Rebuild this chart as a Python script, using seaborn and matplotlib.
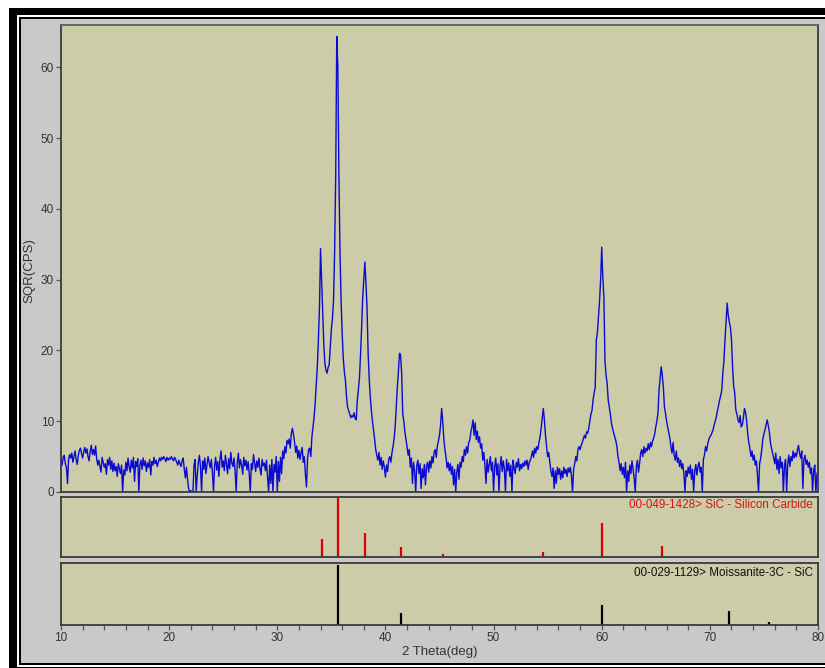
import numpy as np
import pandas as pd
import matplotlib
matplotlib.use("Agg")
import matplotlib.pyplot as plt
from matplotlib.patches import Rectangle
import seaborn as sns

# ---------------- data ----------------
# measured pattern, 2-theta from 10.0 to 80.0 in 0.1 deg steps (one row per degree)
sqr_cps_rows = [
    [4.5, 3.8, 4.9, 5.2, 4.0, 3.5, 1.2, 4.6, 5.3, 4.8],   # 10
    [5.5, 4.2, 5.0, 5.8, 4.6, 3.9, 5.2, 5.9, 6.2, 5.4],   # 11
    [4.8, 5.7, 6.3, 5.5, 6.1, 5.0, 4.4, 5.8, 6.6, 5.3],   # 12
    [6.0, 5.2, 6.5, 4.7, 3.8, 4.5, 3.6, 2.8, 4.9, 4.2],   # 13
    [3.5, 4.0, 2.5, 4.6, 3.8, 4.9, 3.2, 4.4, 2.9, 4.1],   # 14
    [3.0, 3.6, 2.2, 4.0, 3.3, 2.6, 3.8, 0.0, 3.1, 2.4],   # 15
    [4.2, 3.0, 4.8, 3.5, 2.8, 4.5, 3.4, 4.9, 1.5, 4.3],   # 16
    [3.6, 4.7, 0.0, 3.9, 4.5, 3.2, 4.8, 3.7, 4.4, 2.9],   # 17
    [4.1, 3.5, 4.6, 2.4, 4.3, 3.8, 4.9, 4.0, 4.5, 3.6],   # 18
    [4.2, 4.8, 4.4, 4.9, 4.6, 5.0, 4.7, 4.3, 4.9, 4.5],   # 19
    [4.8, 4.6, 5.0, 4.7, 4.4, 4.9, 4.6, 4.2, 3.8, 4.5],   # 20
    [4.0, 3.6, 4.4, 4.8, 3.2, 2.0, 3.5, 1.8, 0.5, 0.0],   # 21
    [0.2, 0.0, 0.0, 3.8, 4.6, 0.0, 2.4, 4.2, 5.2, 3.6],   # 22
    [0.0, 4.4, 3.2, 4.8, 2.6, 3.9, 5.0, 4.1, 3.4, 4.6],   # 23
    [2.8, 0.0, 3.7, 4.9, 3.1, 4.3, 2.2, 4.6, 5.8, 3.5],   # 24
    [4.4, 3.0, 5.2, 4.0, 2.6, 4.7, 3.3, 5.6, 4.1, 3.6],   # 25
    [4.8, 2.9, 0.0, 4.2, 5.5, 3.4, 4.6, 3.8, 2.5, 4.9],   # 26
    [3.7, 4.5, 3.1, 4.3, 2.7, 0.0, 4.0, 3.2, 5.3, 4.1],   # 27
    [2.9, 4.4, 3.5, 4.8, 3.3, 2.4, 4.6, 3.7, 4.1, 3.0],   # 28
    [4.5, 2.1, 0.0, 3.8, 1.2, 4.6, 0.0, 3.9, 2.8, 5.0],   # 29
    [0.0, 4.3, 1.5, 4.9, 2.6, 5.8, 4.7, 6.4, 5.5, 7.3],   # 30
    [6.8, 7.5, 6.2, 8.3, 9.0, 8.1, 7.0, 5.6, 6.5, 4.8],   # 31
    [5.9, 4.6, 5.5, 6.3, 4.2, 5.0, 2.5, 0.7, 4.8, 6.0],   # 32
    [6.2, 5.0, 7.8, 9.2, 10.5, 12.5, 15.0, 17.7, 21.5, 26.0],   # 33
    [34.4, 30.0, 26.0, 21.0, 18.2, 17.2, 16.8, 17.6, 18.0, 20.5],   # 34
    [23.0, 24.5, 27.0, 33.8, 44.5, 64.4, 60.0, 44.5, 33.8, 27.0],   # 35
    [22.4, 19.0, 17.0, 15.8, 13.5, 12.0, 11.5, 11.0, 10.5, 10.8],   # 36
    [10.6, 11.2, 10.4, 10.2, 13.0, 14.5, 16.2, 19.5, 23.3, 27.5],   # 37
    [30.0, 32.5, 29.5, 26.0, 19.6, 16.0, 13.4, 11.5, 10.0, 8.8],   # 38
    [7.5, 6.0, 5.2, 4.5, 5.6, 3.8, 4.9, 3.2, 4.4, 3.5],   # 39
    [2.1, 3.8, 2.9, 4.6, 5.0, 4.2, 5.5, 6.4, 7.5, 9.2],   # 40
    [12.0, 14.8, 17.0, 19.6, 19.4, 16.8, 11.1, 10.0, 8.5, 7.5],   # 41
    [6.4, 5.2, 6.0, 3.5, 4.8, 1.2, 4.2, 3.0, 0.0, 3.8],   # 42
    [4.5, 2.6, 4.0, 0.5, 3.3, 2.0, 3.9, 1.0, 3.6, 4.2],   # 43
    [2.8, 4.4, 3.4, 5.0, 4.1, 5.6, 6.0, 4.9, 6.5, 7.2],   # 44
    [8.0, 9.5, 11.8, 10.0, 7.5, 6.0, 5.0, 3.4, 4.2, 3.0],   # 45
    [4.0, 2.5, 3.6, 1.0, 3.2, 0.0, 2.8, 3.9, 1.8, 4.2],   # 46
    [3.5, 5.0, 4.3, 6.0, 5.2, 6.4, 5.5, 7.0, 7.3, 8.5],   # 47
    [9.2, 10.2, 8.0, 9.8, 7.4, 8.6, 7.0, 7.8, 6.2, 6.8],   # 48
    [4.5, 5.6, 3.8, 1.2, 4.6, 2.8, 3.9, 5.0, 3.0, 4.2],   # 49
    [0.0, 3.5, 4.8, 2.4, 4.0, 0.0, 3.6, 5.0, 2.9, 4.4],   # 50
    [3.2, 0.0, 4.6, 3.0, 4.1, 2.2, 3.8, 0.0, 4.5, 3.4],   # 51
    [2.6, 4.2, 3.5, 4.7, 3.0, 3.9, 3.3, 4.1, 3.6, 4.4],   # 52
    [3.8, 4.5, 3.2, 4.2, 4.5, 5.0, 5.8, 4.9, 6.2, 5.5],   # 53
    [6.4, 6.0, 7.0, 7.8, 9.0, 10.5, 11.8, 10.2, 8.0, 6.5],   # 54
    [5.0, 5.6, 4.2, 3.0, 2.2, 3.4, 0.5, 3.0, 1.2, 3.5],   # 55
    [2.5, 3.3, 1.8, 3.0, 2.0, 3.5, 2.6, 3.2, 2.2, 3.4],   # 56
    [2.8, 3.5, 2.3, 0.0, 3.2, 4.0, 5.0, 4.4, 6.0, 6.4],   # 57
    [6.0, 6.6, 7.0, 7.5, 8.0, 7.6, 8.5, 8.3, 9.0, 10.0],   # 58
    [11.0, 11.5, 13.0, 14.0, 14.8, 21.5, 22.5, 24.7, 27.0, 30.0],   # 59
    [34.6, 30.5, 27.5, 18.6, 16.5, 15.4, 13.0, 12.0, 11.0, 9.7],   # 60
    [9.0, 8.4, 7.8, 7.3, 6.5, 5.0, 4.2, 3.0, 4.0, 2.5],   # 61
    [3.5, 2.0, 4.2, 0.0, 3.0, 1.5, 3.8, 2.6, 4.4, 3.2],   # 62
    [2.0, 0.0, 3.6, 4.5, 2.8, 4.0, 5.5, 6.0, 5.0, 6.4],   # 63
    [5.5, 6.2, 5.8, 6.8, 6.0, 7.0, 6.4, 7.2, 7.6, 8.2],   # 64
    [9.2, 10.0, 11.1, 14.4, 16.0, 17.7, 16.5, 14.8, 12.0, 11.1],   # 65
    [10.0, 9.2, 8.4, 7.6, 6.4, 5.5, 7.0, 5.2, 4.5, 5.8],   # 66
    [4.2, 4.8, 3.6, 4.5, 3.3, 4.0, 2.5, 0.0, 3.0, 2.2],   # 67
    [3.5, 2.6, 3.8, 1.8, 3.2, 0.0, 2.9, 3.9, 2.4, 3.6],   # 68
    [4.2, 2.8, 3.5, 0.0, 4.6, 5.2, 6.4, 5.8, 6.8, 7.4],   # 69
    [7.8, 8.0, 8.4, 8.8, 9.5, 10.0, 10.6, 11.5, 12.2, 13.0],   # 70
    [13.6, 14.4, 16.8, 18.5, 21.5, 24.0, 26.7, 25.0, 24.0, 23.3],   # 71
    [21.5, 17.7, 15.0, 14.0, 11.6, 11.0, 10.2, 9.8, 10.8, 9.2],   # 72
    [9.5, 10.5, 11.8, 11.3, 10.0, 8.3, 7.0, 6.2, 5.0, 5.8],   # 73
    [4.5, 5.2, 3.8, 4.4, 2.5, 0.0, 4.0, 4.8, 6.0, 7.5],   # 74
    [8.2, 8.8, 9.5, 10.2, 9.4, 8.5, 7.0, 6.2, 5.5, 4.8],   # 75
    [4.0, 5.5, 3.2, 4.6, 2.6, 5.0, 3.4, 4.2, 0.0, 3.8],   # 76
    [4.6, 0.0, 4.0, 5.2, 3.6, 5.0, 4.4, 5.8, 4.8, 5.5],   # 77
    [5.0, 6.0, 6.6, 5.4, 4.8, 5.8, 0.5, 4.6, 5.2, 3.9],   # 78
    [4.5, 3.5, 4.2, 2.6, 3.4, 0.0, 3.0, 3.8, 0.0, 2.5],   # 79
    [3.0],                                                 # 80
]

# reference card 00-049-1428 (SiC - Silicon Carbide)
sic_pos = [34.1, 35.6, 38.1, 41.4, 45.3, 54.6, 60.0, 65.6]
sic_int = [31, 100, 40, 16, 5, 8, 57, 18]
sic_label = "00-049-1428> SiC - Silicon Carbide"

# reference card 00-029-1129 (Moissanite-3C - SiC)
moi_pos = [35.6, 41.4, 60.0, 71.8, 75.5]
moi_int = [100, 20, 34, 24, 5]
moi_label = "00-029-1129> Moissanite-3C - SiC"

y_ticks = [0, 10, 20, 30, 40, 50, 60]
x_ticks = [10, 20, 30, 40, 50, 60, 70, 80]
y_label = "SQR(CPS)"
x_label = "2 Theta(deg)"

# ---------------- build table ----------------
intensity = np.array([v for row in sqr_cps_rows for v in row])
two_theta = np.round(np.linspace(10.0, 80.0, len(intensity)), 1)
df = pd.DataFrame({"two_theta": two_theta, "sqr_cps": intensity})

# ---------------- figure ----------------
sns.set_theme(style="white")
plt.rcParams["font.family"] = ["Liberation Sans", "DejaVu Sans"]

W, H = 825, 668
fig = plt.figure(figsize=(W / 100, H / 100), dpi=100)
fig.patch.set_facecolor("white")

PANEL_BG = "#cdcca8"
GRAY = "#c9c9c9"
TXT = "#333333"


def px_rect(x0, y0, x1, y1, color, z):
    r = Rectangle((x0 / W, 1 - y1 / H), (x1 - x0) / W, (y1 - y0) / H,
                  transform=fig.transFigure, facecolor=color,
                  edgecolor="none", zorder=z)
    fig.add_artist(r)


# window frame: thick black, white gap, thin black, gray interior
px_rect(9, 8, 840, 690, "black", -10)
px_rect(16.5, 15, 840, 666.5, "white", -9)
px_rect(18.5, 16.8, 840, 665, "black", -8)
px_rect(20.7, 19, 840, 663, GRAY, -7)


def axes_px(x0, y0, x1, y1):
    return fig.add_axes([x0 / W, 1 - y1 / H, (x1 - x0) / W, (y1 - y0) / H])


ax_main = axes_px(61, 25, 818, 492)
ax_sic = axes_px(61, 497, 818, 557)
ax_moi = axes_px(61, 563, 818, 625)

for ax in (ax_main, ax_sic, ax_moi):
    ax.set_facecolor(PANEL_BG)
    ax.set_xlim(10, 80)
    for s in ax.spines.values():
        s.set_color("#3a3a3a")
        s.set_linewidth(1.3)
        s.set_visible(True)
    ax.grid(False)

# main pattern
sns.lineplot(data=df, x="two_theta", y="sqr_cps", ax=ax_main,
             estimator=None, sort=False, color="#0a0ad2", linewidth=1.0)
ax_main.set_ylim(0, 66)
ax_main.set_yticks(y_ticks)
ax_main.set_yticklabels([str(t) for t in y_ticks], fontsize=8.5, color=TXT)
ax_main.set_xticks([])
ax_main.set_xlabel("")
ax_main.set_ylabel(y_label, fontsize=9.5, color=TXT)
ax_main.yaxis.set_label_coords(-0.034, 0.475)
ax_main.tick_params(axis="y", which="both", left=True, length=3.5, width=0.9,
                    color="#555555", pad=1.5, direction="out")
ax_main.spines["top"].set_color("#606060")

# stick panels
ax_sic.vlines(sic_pos, 0, sic_int, color="#dd0000", linewidth=1.6)
ax_sic.set_ylim(0, 101)
ax_sic.set_xticks([])
ax_sic.set_yticks([])
ax_sic.set_xlabel("")
ax_sic.text(0.993, 0.86, sic_label, transform=ax_sic.transAxes,
            ha="right", va="center", fontsize=8.4, color="#dd1111")

ax_moi.vlines(moi_pos, 0, moi_int, color="black", linewidth=1.6)
ax_moi.set_ylim(0, 103)
ax_moi.set_yticks([])
ax_moi.set_xticks(x_ticks)
ax_moi.set_xticks(np.arange(10, 81, 2), minor=True)
ax_moi.set_xticklabels([str(t) for t in x_ticks], fontsize=8.5, color=TXT)
ax_moi.tick_params(axis="x", which="both", bottom=True, length=3.5, width=0.9,
                   color="#555555", pad=1.5, direction="out")
ax_moi.text(0.993, 0.84, moi_label, transform=ax_moi.transAxes,
            ha="right", va="center", fontsize=8.4, color="#111111")

fig.text(440 / W, 1 - 652 / H, x_label, ha="center", va="center",
         fontsize=9.5, color=TXT)

fig.savefig("out.png", dpi=100, facecolor="white")
